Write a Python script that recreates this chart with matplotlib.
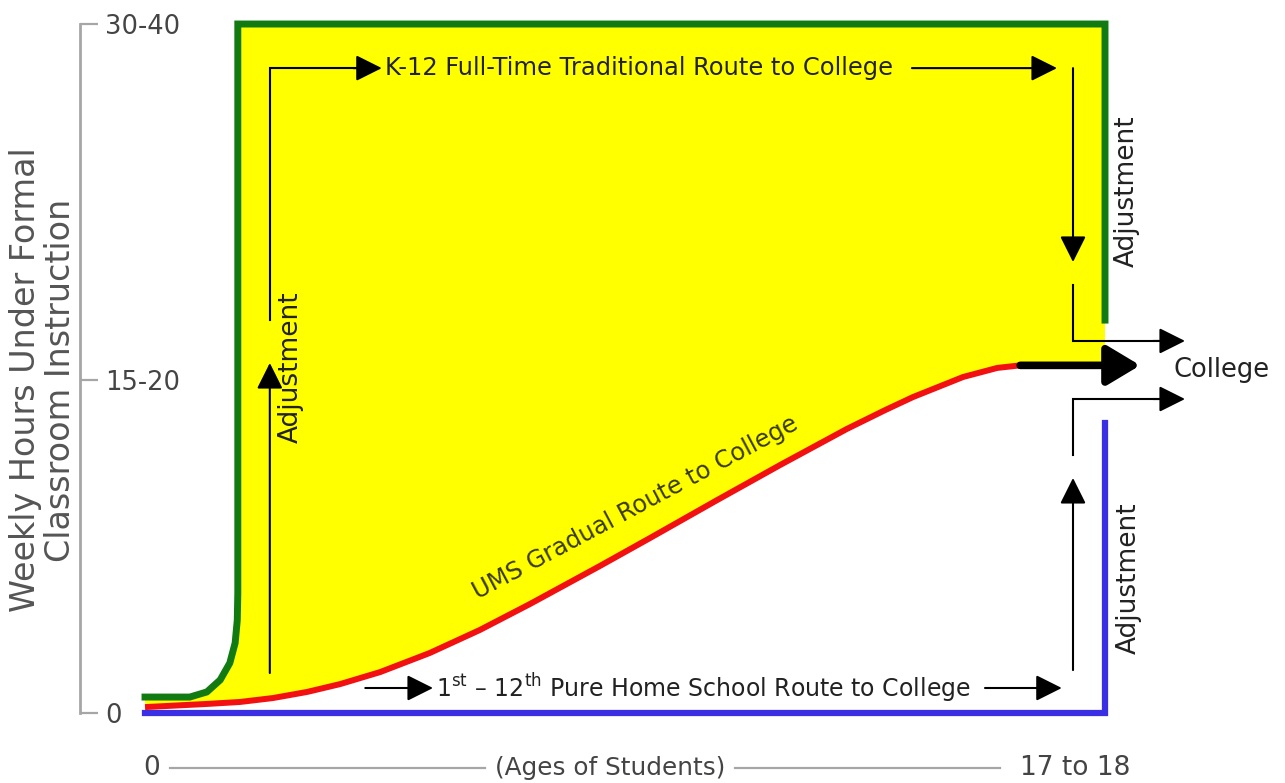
import numpy as np
import matplotlib
matplotlib.use("Agg")
import matplotlib.pyplot as plt

plt.rcParams['font.family'] = ['DejaVu Sans']

# routes to college: x = age of student, y = weekly hours of formal instruction
ums_age = [0.00, 1.16, 1.78, 2.40, 3.04, 3.66, 4.41, 5.34, 6.28, 7.22,
           8.53, 9.47, 10.73, 11.91, 13.16, 13.88, 14.40, 15.34, 15.98, 16.41]
ums_hours = [0.30, 0.46, 0.56, 0.76, 1.07, 1.47, 2.08, 3.05, 4.22, 5.54,
             7.47, 8.89, 10.82, 12.60, 14.43, 15.39, 16.05, 17.07, 17.53, 17.66]

k12_age = [0.0, 0.84, 1.16, 1.41, 1.59, 1.69, 1.73, 1.74, 1.74, 18.0, 18.0]
k12_hours = [0.81, 0.81, 1.07, 1.68, 2.54, 3.56, 4.72, 6.10, 35.0, 35.0, 19.96]

home_age = [0.0, 18.0, 18.0]
home_hours = [0.0, 0.0, 14.73]

college_age = [16.41, 18.66]
college_hours = 17.66

ytick_vals = [0, 16.9, 35.0]
ytick_labels = ['0', '15-20', '30-40']

GREEN = '#117a11'
RED = '#f21010'
BLUE = '#3a2fe2'
YELLOW = '#ffff00'
GRAY = '#a6a6a6'
TXT = '#222222'

fig = plt.figure(figsize=(12.85, 7.83), dpi=100)
ax = fig.add_axes([0, 0, 1, 1])
ax.set_xlim(-2.719, 21.375)
ax.set_ylim(-3.556, 36.22)

# yellow band between the K-12 route and the UMS route
fill_x = k12_age + [18.0] + college_age[::-1] + ums_age[::-1]
fill_y = k12_hours + [college_hours] + [college_hours, college_hours] + ums_hours[::-1]
ax.fill(fill_x, fill_y, color=YELLOW, zorder=1, lw=0)

ax.plot(home_age, home_hours, color=BLUE, lw=4.5, solid_joinstyle='miter', zorder=3)
ax.plot(k12_age, k12_hours, color=GREEN, lw=5, solid_joinstyle='miter', zorder=3)
ax.plot(ums_age, ums_hours, color=RED, lw=4.3, solid_capstyle='butt',
        solid_joinstyle='round', zorder=4)

# thick black arrow into college
ax.annotate('', xy=(college_age[1], college_hours), xytext=(college_age[0], college_hours),
            arrowprops=dict(arrowstyle='-|>,head_length=1.0,head_width=0.6', lw=5.5,
                            color='black', shrinkA=0, shrinkB=0, mutation_scale=20), zorder=5)

arw = dict(arrowstyle='-|>,head_length=0.8,head_width=0.4', lw=1.5, color='black',
           shrinkA=0, shrinkB=0, mutation_scale=20)

def arrow(x0, y0, x1, y1):
    ax.annotate('', xy=(x1, y1), xytext=(x0, y0), arrowprops=arw, zorder=6)

def seg(xs, ys):
    ax.plot(xs, ys, color='black', lw=1.5, zorder=6, solid_joinstyle='miter')

FS = 17.4
FA = 19

# K-12 traditional route
seg([2.34, 2.34, 4.0], [19.96, 32.76, 32.76])
arrow(3.9, 32.76, 4.44, 32.76)
ax.text(4.50, 32.76, 'K-12 Full-Time Traditional Route to College', fontsize=FS,
        color=TXT, va='center', ha='left', zorder=7)
arrow(14.38, 32.76, 17.10, 32.76)
arrow(17.40, 32.76, 17.40, 22.91)
seg([17.40, 17.40, 19.0], [21.74, 18.90, 18.90])
arrow(18.9, 18.90, 19.50, 18.90)

# left adjustment
arrow(2.34, 2.03, 2.34, 17.78)
ax.text(2.74, 17.58, 'Adjustment', rotation=90, fontsize=FA, color=TXT,
        ha='center', va='center', zorder=7)

# home school route
arrow(4.13, 1.27, 5.40, 1.27)
ax.text(5.46, 1.27, r'1$^{\rm st}$ – 12$^{\rm th}$ Pure Home School Route to College',
        fontsize=17, color=TXT, va='center', ha='left', zorder=7)
arrow(15.75, 1.27, 17.19, 1.27)
arrow(17.40, 2.18, 17.40, 11.94)
seg([17.40, 17.40, 19.0], [13.11, 15.95, 15.95])
arrow(18.9, 15.95, 19.50, 15.95)

ax.text(18.40, 26.52, 'Adjustment', rotation=90, fontsize=FA, color=TXT,
        ha='center', va='center', zorder=7)
ax.text(18.45, 6.86, 'Adjustment', rotation=90, fontsize=FA, color=TXT,
        ha='center', va='center', zorder=7)
ax.text(19.28, 17.42, 'College', fontsize=18.5, color=TXT, ha='left', va='center')

ax.text(9.19, 10.4, 'UMS Gradual Route to College', rotation=28, rotation_mode='anchor',
        fontsize=FS, color='#3a3a00', ha='center', va='center', zorder=7)

# y axis as a bracket with labels on its right
for s in ['top', 'right', 'bottom']:
    ax.spines[s].set_visible(False)
ax.spines['left'].set_position(('data', -1.22))
ax.spines['left'].set_bounds(0, 35.0)
ax.spines['left'].set_color(GRAY)
ax.spines['left'].set_linewidth(2)
ax.set_yticks(ytick_vals)
ax.set_yticklabels(ytick_labels)
ax.tick_params(axis='y', direction='in', length=13, width=1.6, color=GRAY,
               pad=-18, labelsize=18.5, labelcolor='#444444')
for lbl in ax.get_yticklabels():
    lbl.set_ha('left')
ax.set_xticks([])

ax.text(-1.91, 16.92, 'Weekly Hours Under Formal\nClassroom Instruction', rotation=90,
        fontsize=24, color='#555555', ha='center', va='center', linespacing=1.1)

# x axis labels
ax.text(0.13, -2.79, '0', fontsize=19, color='#444444', ha='center', va='center')
ax.plot([0.47, 6.38], [-2.79, -2.79], color=GRAY, lw=1.6)
ax.text(8.72, -2.79, '(Ages of Students)', fontsize=17.8, color='#444444', ha='center', va='center')
ax.plot([11.06, 16.03], [-2.79, -2.79], color=GRAY, lw=1.6)
ax.text(17.44, -2.79, '17 to 18', fontsize=19, color='#444444', ha='center', va='center')

fig.savefig('out.png', dpi=100)
